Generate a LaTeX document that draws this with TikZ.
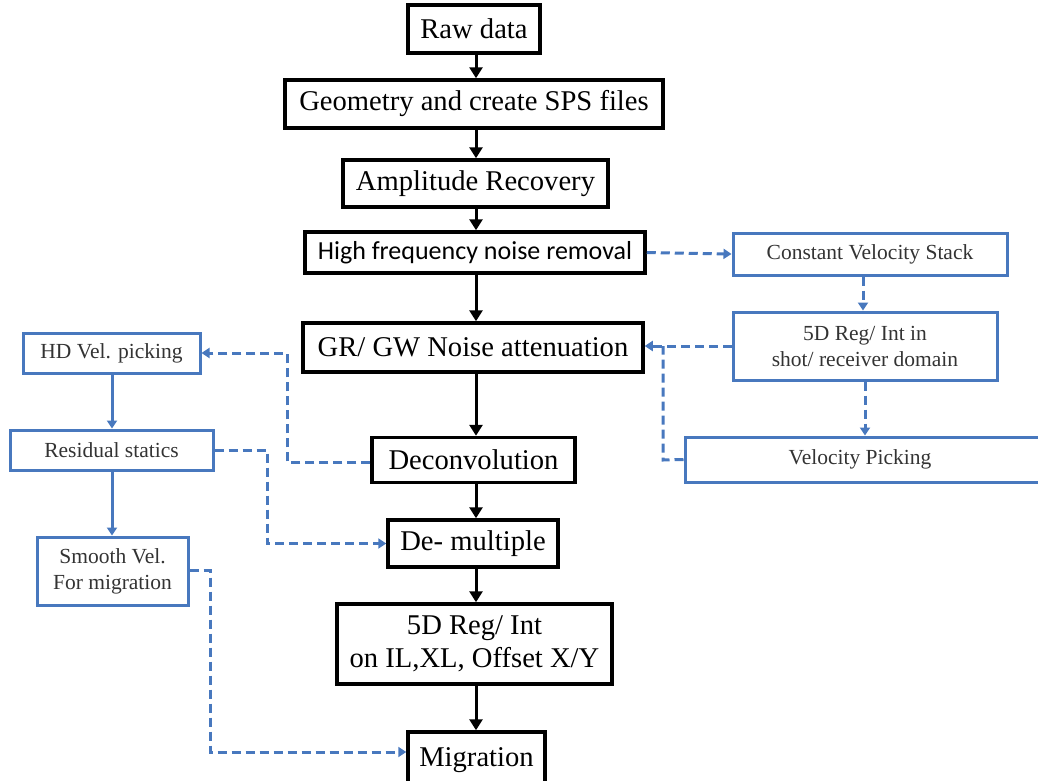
\documentclass[tikz,border=0pt]{standalone}
\usepackage{fontspec}
\setmainfont{Liberation Serif}
\newfontfamily\calibrifont{Carlito}
\usetikzlibrary{arrows.meta}
\definecolor{bblue}{RGB}{72,120,190}
\tikzset{
  mainbox/.style={draw=black,line width=3.5pt,inner sep=0pt,align=center,font=\fontsize{28.6}{33}\selectfont},
  bluebox/.style={draw=bblue,line width=3pt,inner sep=0pt,align=center,text=black!80,font=\fontsize{21.5}{26}\selectfont},
  flow/.style={draw=black,line width=3pt,-{Triangle[width=13pt,length=11pt]}},
  bflow/.style={draw=bblue,line width=3pt,-{Triangle[width=10pt,length=8pt]}},
  dflow/.style={draw=bblue,line width=3pt,dash pattern=on 9pt off 5pt,-{Triangle[width=10pt,length=8pt]}},
  dline/.style={draw=bblue,line width=3pt,dash pattern=on 9pt off 5pt},
}
\begin{document}
\begin{tikzpicture}[x=1pt,y=-1pt]
\useasboundingbox (0,0) rectangle (1038,780);
% main column
\node[mainbox,minimum width=132pt,minimum height=48pt] (raw) at (474,29) {Raw data};
\node[mainbox,minimum width=378pt,minimum height=48pt] (geo) at (474,104) {Geometry and create SPS files};
\node[mainbox,minimum width=265pt,minimum height=47pt] (amp) at (475.5,183.5) {Amplitude Recovery};
\node[mainbox,minimum width=340pt,minimum height=41pt,font=\calibrifont\fontsize{26}{31}\selectfont] (hf) at (475,252.5) {High frequency noise removal};
\node[mainbox,minimum width=340pt,minimum height=49pt] (gr) at (473,347.5) {GR/ GW Noise attenuation};
\node[mainbox,minimum width=203pt,minimum height=45pt] (dec) at (473.5,460) {Deconvolution};
\node[mainbox,minimum width=170pt,minimum height=47pt] (dem) at (473,543.5) {De- multiple};
\node[mainbox,minimum width=275pt,minimum height=80pt] (fived) at (474.5,644) {5D Reg/ Int\\on IL,XL, Offset X/Y};
\node[mainbox,minimum width=137pt,minimum height=56pt] (mig) at (476.5,760) {Migration};
% left blue column
\node[bluebox,minimum width=177pt,minimum height=40pt] (hd) at (111.5,353) {HD Vel. picking};
\node[bluebox,minimum width=203pt,minimum height=40pt] (rs) at (111.5,450) {Residual statics};
\node[bluebox,minimum width=151pt,minimum height=68pt] (sv) at (112.5,571) {Smooth Vel.\\For migration};
% right blue column
\node[bluebox,minimum width=274pt,minimum height=42pt] (cvs) at (870,254) {Constant Velocity Stack};
\node[bluebox,minimum width=264pt,minimum height=68pt] (fsh) at (865,346) {5D Reg/ Int in\\shot/ receiver domain};
\node[bluebox,minimum width=365pt,minimum height=45pt] (vp) at (867.5,459.5) {};
\node[font=\fontsize{21.5}{26}\selectfont,text=black!80] (vpt) at (860,459.5) {Velocity Picking};
% axes
\coordinate (ax) at (476,0);
\coordinate (bx) at (112,0);
% main flow
\draw[flow] (raw.south -| ax) -- (geo.north -| ax);
\draw[flow] (geo.south -| ax) -- (amp.north -| ax);
\draw[flow] (amp.south -| ax) -- (hf.north -| ax);
\draw[flow] (hf.south -| ax) -- (gr.north -| ax);
\draw[flow] (gr.south -| ax) -- (dec.north -| ax);
\draw[flow] (dec.south -| ax) -- (dem.north -| ax);
\draw[flow] (dem.south -| ax) -- (fived.north -| ax);
\draw[flow] (fived.south -| ax) -- (mig.north -| ax);
% left solid blue
\draw[bflow] (hd.south -| bx) -- (rs.north -| bx);
\draw[bflow] (rs.south -| bx) -- (sv.north -| bx);
% right dashed
\draw[dflow] (hf.east) -- (cvs.west);
\draw[dflow] (cvs.south -| 863,0) -- (fsh.north -| 863,0);
\draw[dflow] (fsh.south -| 865,0) -- (vp.north -| 865,0);
\draw[dflow] (fsh.west) -- (gr.east |- fsh.west);
\coordinate (vpc) at (663,460);
\draw[dline] (vp.west) -- (vpc) -- (vpc |- fsh.west);
% left dashed
\coordinate (dc) at (287,462);
\draw[dflow] (dec.west |- dc) -- (dc) -- (dc |- hd.east) -- (hd.east);
\coordinate (rc) at (267,450);
\draw[dflow] (rs.east) -- (rc) -- (rc |- dem.west) -- (dem.west);
\coordinate (sc) at (210,570);
\coordinate (mc) at (210,752);
\draw[dflow] (sv.east |- sc) -- (sc) -- (mc) -- (mig.west |- mc);
\end{tikzpicture}
\end{document}
